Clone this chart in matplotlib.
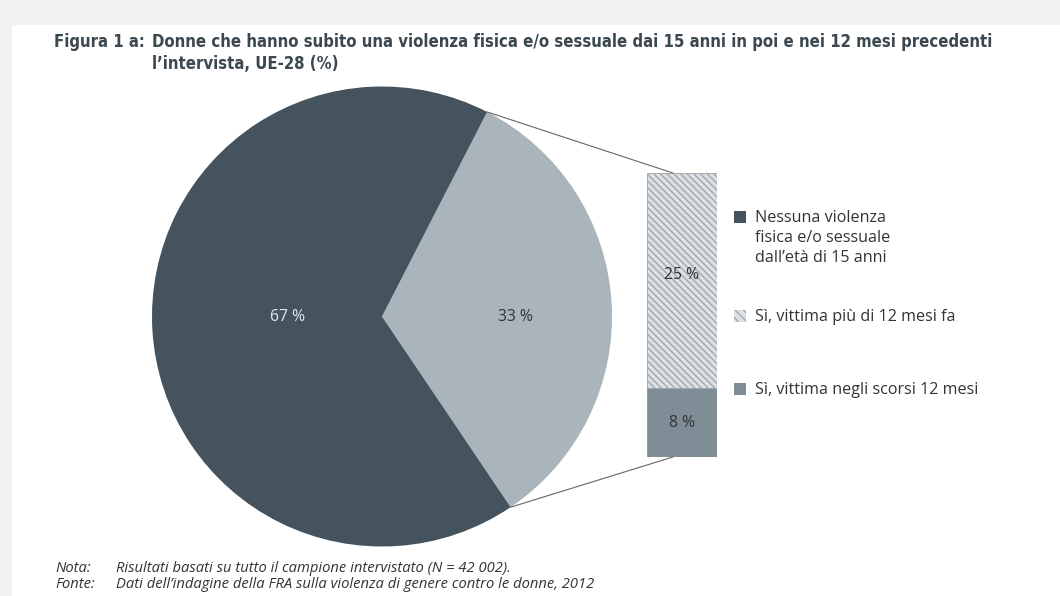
import numpy as np
import matplotlib
matplotlib.use("Agg")
from matplotlib import pyplot as plt
from matplotlib.patches import Rectangle, ConnectionPatch

# dati
pie_labels = ["Sì, vittima", "Nessuna violenza"]
pie_values = [33, 67]
bar_labels = ["Sì, vittima negli scorsi 12 mesi", "Sì, vittima più di 12 mesi fa"]
bar_values = [8, 25]
legend_labels = ["Nessuna violenza\nfisica e/o sessuale\ndall\u2019età di 15 anni",
                 "Sì, vittima più di 12 mesi fa",
                 "Sì, vittima negli scorsi 12 mesi"]

dark = "#44535d"
light = "#a9b4bb"
mid = "#7f8d96"
hatch_bg = "#dce0e3"
hatch_c = "#9ba4aa"
txt = "#333333"

W, H = 1060, 596
plt.rcParams['font.family'] = ['Open Sans', 'DejaVu Sans']
plt.rcParams['hatch.color'] = hatch_c
plt.rcParams['hatch.linewidth'] = 0.9

fig = plt.figure(figsize=(W / 100, H / 100), dpi=100, facecolor="#f1f1f1")


def fx(x):
    return x / W


def fy(y):
    return 1 - y / H


# cartoncino bianco
fig.patches.append(Rectangle((fx(12), 0), 1, fy(25), transform=fig.transFigure,
                             facecolor="white", edgecolor="none", zorder=-5))

ax = fig.add_axes([0, 0, 1, 1])
ax.patch.set_alpha(0)
wedges, _ = ax.pie(pie_values, colors=[light, dark], startangle=-56,
                   center=(382, H - 316.5), radius=230,
                   wedgeprops=dict(linewidth=0))
ax.set_xlim(0, W)
ax.set_ylim(0, H)
ax.set_aspect('auto')
ax.axis('off')

ax.text(515, H - 317, "33 %", ha='center', va='center', fontsize=11.3, color=txt)
ax.text(288, H - 317, "67 %", ha='center', va='center', fontsize=11.3, color="#e6e9eb")

# barra
bax = fig.add_axes([fx(647), fy(457), fx(70), (457 - 173) / H])
bax.patch.set_alpha(0)
bax.bar(0, bar_values[0], width=1, color=mid, edgecolor="#8c979e", linewidth=0.6)
bax.bar(0, bar_values[1], width=1, bottom=bar_values[0], color=hatch_bg,
        edgecolor=hatch_c, linewidth=0.6, hatch="\\\\\\\\\\")
bax.set_xlim(-0.5, 0.5)
bax.set_ylim(0, sum(bar_values))
bax.axis('off')
bax.text(0, bar_values[0] / 2, f"{bar_values[0]} %", ha='center', va='center',
         fontsize=11.3, color=txt)
bax.text(0, bar_values[0] + bar_values[1] / 2 + 0.7, f"{bar_values[1]} %", ha='center',
         va='center', fontsize=11.3, color=txt)

# linee di collegamento
w = wedges[0]
cx, cy = w.center
for ang, yb in [(w.theta2, 1), (w.theta1, 0)]:
    p = (cx + w.r * np.cos(np.radians(ang)), cy + w.r * np.sin(np.radians(ang)))
    con = ConnectionPatch(xyA=p, coordsA=ax.transData, xyB=(0.37, yb),
                          coordsB=bax.transAxes, color="#666666", linewidth=0.8)
    fig.add_artist(con)

# legenda
leg_y = [217, 316, 389]
leg_col = [dark, hatch_bg, mid]
for i, lab in enumerate(legend_labels):
    if i == 1:
        r = Rectangle((734, H - leg_y[i] - 6), 12, 12, facecolor=leg_col[i],
                      edgecolor=hatch_c, linewidth=0, hatch="\\\\\\\\")
    else:
        r = Rectangle((734, H - leg_y[i] - 6), 12, 12, facecolor=leg_col[i],
                      edgecolor="none")
    ax.add_patch(r)
    ax.text(755, H - leg_y[i] + 7, lab, ha='left', va='top', fontsize=11.6,
            color=txt, linespacing=1.34)

# titolo
tkw = dict(fontsize=12, fontweight='bold', family='DejaVu Sans',
           fontstretch='condensed', color="#3c4850", va='center')
fig.text(fx(54), fy(42), "Figura 1 a:", **tkw)
fig.text(fx(152), fy(42), "Donne che hanno subito una violenza fisica e/o sessuale dai 15 anni in poi e nei 12 mesi precedenti", **tkw)
fig.text(fx(152), fy(64), "l\u2019intervista, UE-28 (%)", **tkw)

# note
nkw = dict(fontsize=10.6, style='italic', color=txt, va='center')
fig.text(fx(55), fy(568), "Nota:", **nkw)
fig.text(fx(116), fy(568), "Risultati basati su tutto il campione intervistato (N = 42 002).", **nkw)
fig.text(fx(55), fy(585), "Fonte:", **nkw)
fig.text(fx(116), fy(585), "Dati dell\u2019indagine della FRA sulla violenza di genere contro le donne, 2012", **nkw)

fig.savefig("out.png", dpi=100, facecolor=fig.get_facecolor())
